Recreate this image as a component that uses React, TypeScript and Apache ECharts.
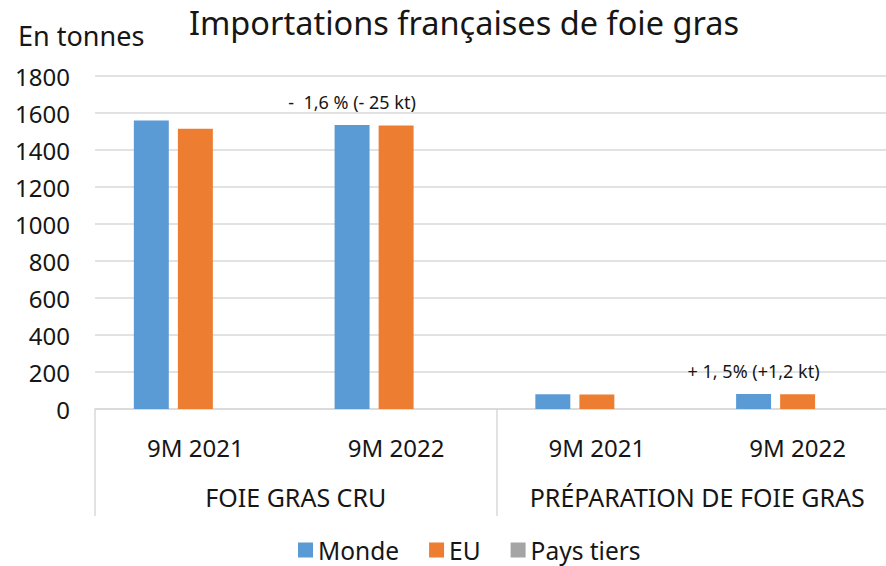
import React, { useEffect, useRef } from "react";
import * as echarts from "echarts";

const periods = ["9M 2021", "9M 2022", "9M 2021", "9M 2022"];
const groups = ["FOIE GRAS CRU", "PRÉPARATION DE FOIE GRAS"];
const monde = [1560, 1535, 80, 81];
const eu = [1515, 1533, 79, 80];
const paysTiers: (number | null)[] = [null, null, null, null];
const annotations = ["", "-  1,6 % (- 25 kt)", "", "+ 1, 5% (+1,2 kt)"];
const yTicks = { min: 0, max: 1800, interval: 200 };

const FONT = "Noto Sans";
const GRID_COLOR = "#d9d9d9";
const TEXT_COLOR = "#161616";

export default function App() {
  const ref = useRef<HTMLDivElement>(null);
  useEffect(() => {
    if (!ref.current) return;
    const chart = echarts.init(ref.current, undefined, { renderer: "svg" });
    chart.setOption({
      animation: false,
      textStyle: { fontFamily: FONT, color: TEXT_COLOR },
      graphic: [
        {
          type: "text",
          x: 464,
          y: 22,
          style: {
            text: "Importations françaises de foie gras",
            fontFamily: FONT,
            fontSize: 32.5,
            fill: TEXT_COLOR,
            align: "center",
            verticalAlign: "middle",
          },
        },
        {
          type: "text",
          x: 18,
          y: 35,
          style: {
            text: "En tonnes",
            fontFamily: FONT,
            fontSize: 27,
            fill: TEXT_COLOR,
            verticalAlign: "middle",
          },
        },
      ],
      legend: {
        top: 537,
        left: 298,
        itemWidth: 15,
        itemHeight: 15,
        itemGap: 30,
        padding: 0,
        icon: "rect",
        textStyle: { fontFamily: FONT, fontSize: 24.5, lineHeight: 26, color: TEXT_COLOR },
        data: ["Monde", "EU", "Pays tiers"],
      },
      grid: { left: 95, width: 803, top: 76, height: 333, outerBoundsMode: "none", containLabel: false },
      xAxis: [
        {
          type: "category",
          data: periods,
          position: "bottom",
          axisLine: { show: true, lineStyle: { color: GRID_COLOR, width: 1.5 } },
          axisTick: { show: false },
          axisLabel: { interval: 0, fontFamily: FONT, fontSize: 24, color: TEXT_COLOR, margin: 26 },
        },
        {
          type: "category",
          data: groups,
          position: "bottom",
          axisLine: { show: false },
          axisTick: { show: true, interval: 0, length: 107, lineStyle: { color: GRID_COLOR, width: 1.5 } },
          axisLabel: { interval: 0, fontFamily: FONT, fontSize: 25, color: TEXT_COLOR, margin: 75 },
        },
      ],
      yAxis: {
        type: "value",
        min: yTicks.min,
        max: yTicks.max,
        interval: yTicks.interval,
        axisLine: { show: false },
        axisTick: { show: false },
        splitLine: { lineStyle: { color: GRID_COLOR, width: 1.5 } },
        axisLabel: {
          fontFamily: FONT,
          fontSize: 24,
          color: TEXT_COLOR,
          margin: 25,
          formatter: (v: number) => String(v),
        },
      },
      series: [
        {
          name: "Monde",
          type: "bar",
          xAxisIndex: 0,
          barGap: "26%",
          barCategoryGap: "38.7%",
          itemStyle: { color: "#5b9bd5" },
          data: monde.map((v, i) => ({
            value: v,
            label: annotations[i]
              ? {
                  show: true,
                  position: "top",
                  distance: 14,
                  formatter: annotations[i],
                  fontFamily: FONT,
                  fontSize: 18,
                  color: TEXT_COLOR,
                }
              : { show: false },
          })),
        },
        {
          name: "EU",
          type: "bar",
          xAxisIndex: 0,
          itemStyle: { color: "#ed7d31" },
          data: eu,
        },
        {
          name: "Pays tiers",
          type: "bar",
          xAxisIndex: 0,
          itemStyle: { color: "#a5a5a5" },
          data: paysTiers,
        },
      ],
    });
    return () => chart.dispose();
  }, []);
  return (
    <div
      ref={ref}
      style={{ position: "absolute", left: 0, top: 0, width: 886, height: 566, background: "#fff" }}
    />
  );
}
